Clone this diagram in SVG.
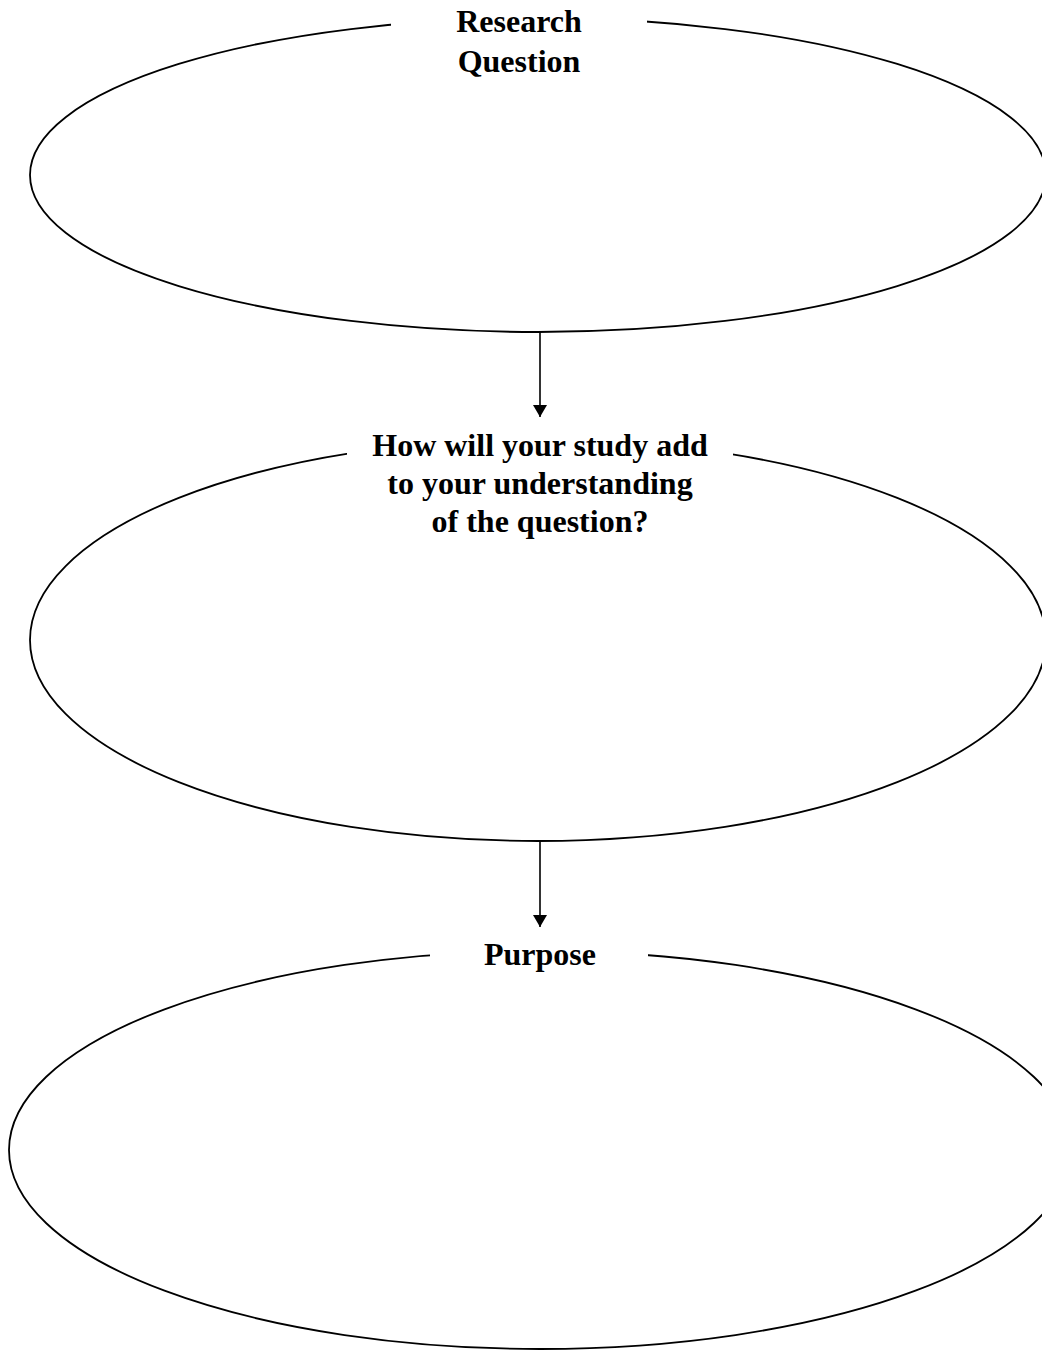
<svg xmlns="http://www.w3.org/2000/svg" width="1042" height="1350" viewBox="0 0 1042 1350">
<style>
.oval{fill:none;stroke:#000;stroke-width:1.8}
.gap{fill:#fff;stroke:none}
.lbl{font-family:"Liberation Serif","Times New Roman",serif;font-weight:bold;font-size:32px;fill:#000;text-anchor:middle}
.conn{stroke:#000;stroke-width:1.6;fill:none}
</style>
<defs>
<marker id="ah" viewBox="0 0 12 14" refX="12" refY="7" markerWidth="12" markerHeight="14" markerUnits="userSpaceOnUse" orient="auto">
<path d="M0,0 L12,7 L0,14 Z" fill="#000"/>
</marker>
</defs>
<rect width="1042" height="1350" fill="#fff"/>
<g id="node-research-question">
<ellipse class="oval" cx="538" cy="175" rx="508" ry="157"/>
<rect class="gap" x="391" y="0" width="256" height="42"/>
<text class="lbl" x="519" y="32">Research</text>
<text class="lbl" x="519" y="72">Question</text>
</g>
<g id="node-how-will">
<ellipse class="oval" cx="538" cy="640" rx="508" ry="201"/>
<rect class="gap" x="347" y="425" width="386" height="45"/>
<text class="lbl" x="540" y="456">How will your study add</text>
<text class="lbl" x="540" y="494">to your understanding</text>
<text class="lbl" x="540" y="532">of the question?</text>
</g>
<g id="node-purpose">
<ellipse class="oval" cx="540" cy="1150" rx="531" ry="199"/>
<rect class="gap" x="430" y="935" width="218" height="30"/>
<text class="lbl" x="540" y="965">Purpose</text>
</g>
<g id="connectors">
<line class="conn" x1="540" y1="332" x2="540" y2="417" marker-end="url(#ah)"/>
<line class="conn" x1="540" y1="841" x2="540" y2="927" marker-end="url(#ah)"/>
</g>
</svg>
